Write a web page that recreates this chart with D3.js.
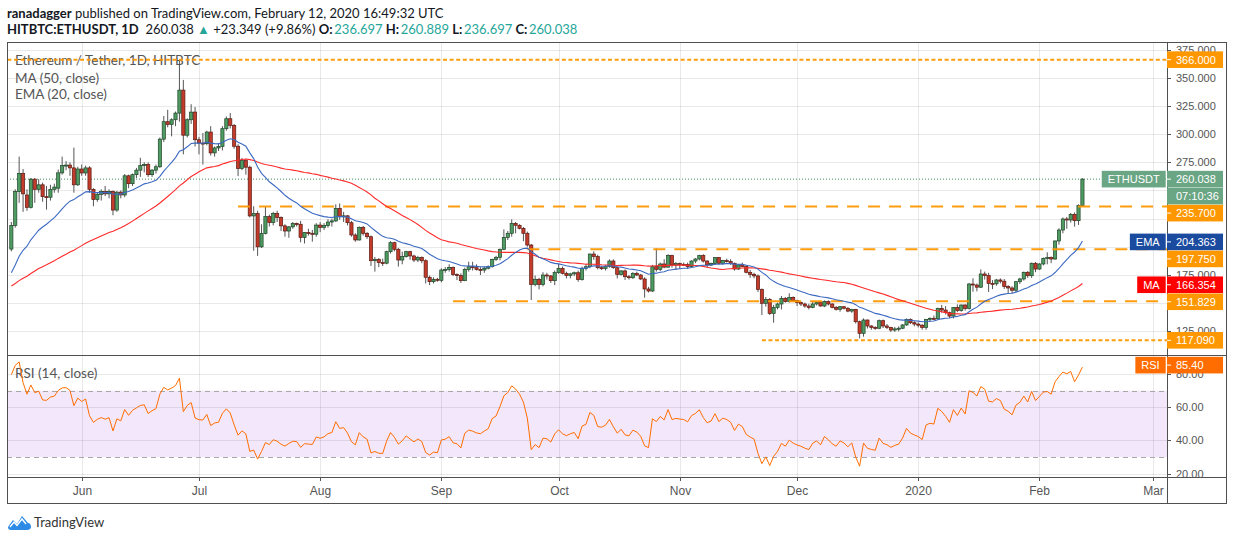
<!DOCTYPE html>
<html><head><meta charset="utf-8">
<script src="https://cdn.jsdelivr.net/npm/d3@7"></script>
<style>
html,body{margin:0;padding:0;background:#fff;}
svg{display:block;}
</style></head><body>
<svg id="c" width="1234" height="541"></svg>
<script>
// ---------------- DATA ----------------
// Off-screen closes (25 Mar – 13 May 2019) used only to warm up MA(50), EMA(20), RSI(14)
const preCloses = [133,134,142,141,143,142,141,
 141,164,160,157,165,165,178,180,175,176,164,165,164,167,161,167,168,174,173,173,171,170,171,164,154,155,157,157,155,162,
 161,162,167,162,162,170,170,170,171,173,194,187,198];

// Daily candles [open, high, low, close]
const may19 = [ // from 14 May 2019
[198,222,196,219],[219,251,217,249],[249,280,239,265],[265,269,231,247],[246,251,232,235],[235,261,234,260],[260,261,239,251],[251,260,248,255],[255,257,240,244.5],[244.5,254,233,244],[244,255,241,251],[251,256,248,253],[252,268.5,248,265.6],[265.6,280,264,272],[272,276,268,272.5],[272.5,275,263,270],[270,288,248,255],[255,271,254,269]];
const jun19 = [
[269,273,263,265.5],[265.5,272,263,270],[270,271.5,248,251],[251,252,236,242],[242,248,240,246.5],[246.5,251,241,249],[249,254,245,247],[247,251,243,249],[249,250,228,232.6],[232.6,249.5,231,248.5],
[248.5,250,243,246],[246,264.5,244,263],[263,264,252,256],[256,265,254,264],[264,270,261,268],[268,279,262,272],[272,275,266,273],[273,275,262,264],[264,269,262,268],[268,273,265,271],
[271,297,270,295.5],[295.5,316,293,311],[311,321.5,306,308.5],[308.5,314,298,312.7],[312.7,320,307,318.6],[318.6,366,311,339],[339,348,282,299],[299,314,297,312.7],[312.7,326.5,309,319.5],[319.5,324,289,295]];
const jul19 = [
[295,297.5,282,292],[292,301,273,291.5],[291.5,303,290,301.8],[301.8,307,281,283.3],[283.3,289,280,287.7],[287.7,292,285,289],[289,307,285.5,304.8],[304.8,315.6,303,313.6],[313.6,318.6,305,307.7],[307.7,309,287,289.2],
[289.2,291,262.7,269.5],[269.5,278.8,268,276.5],[276.5,278,264,270.6],[270.6,272,226,227.4],[227.4,236,196.5,229.5],[229.5,232,192,200],[200,220,199,211.8],[211.8,236,211,226.8],[226.8,228.5,218,221.5],[221.5,231,219,229.5],
[229.5,232,222,226],[226,227,214,218.6],[218.6,220,209,214],[214,218.5,208,217.7],[217.7,222,216,220.6],[220.6,221.5,218,220],[220,223,204,208.3],[208.3,213,203,212.7],[212.7,216,210,212],[212,215,204.6,211.2],
[211.2,221,209,219.3]];
const aug19 = [
[219.3,222,213,217.3],[217.3,221,215,218.8],[218.8,224.5,217,222],[222,225,218,223],[223,237.7,222,234.1],[234.1,238.5,224,226.7],[226.7,231,222,227.5],[227.5,228,219,221.4],[221.4,223,209,210.5],[210.5,212,204.5,206.1],
[206.1,218,205.5,217.3],[217.3,218.5,210,212],[212,213,207,209],[209,210,183,187.7],[187.7,191,178,188.9],[188.9,190,182,186],[186,189.5,183,185.5],[185.5,196.5,184.5,195.7],[195.7,205,194,203.7],[203.7,204.5,196,197.8],
[197.8,199,182.5,188.3],[188.3,195.7,184.5,191.3],[191.3,196.5,190.5,195.7],[195.7,196.5,188.5,191.9],[191.9,193,186.5,188.3],[188.3,192,186.5,190.6],[190.6,191.5,185.5,187.7],[187.7,189,167.5,173],[173,174.5,166,169.1],[169.1,173,167.5,171.2],
[171.2,172.5,169,170.3]];
const sep19 = [
[170.3,181,168.5,179.4],[179.4,182,177,180],[180,184.5,178,181.8],[181.8,182.5,174,175.5],[175.5,176.5,170.5,174.5],[174.5,176.5,168,170],[170,181.5,169.5,180],[180,186.8,178,182.4],[182.4,186.8,179,181.5],[181.5,184.5,179,180],
[180,182,175,179.4],[179.4,182.4,177,181],[181,183.5,180,182.4],[182.4,189.5,181.5,188.9],[188.9,192,187.5,190.7],[190.7,198.5,188,197.8],[197.8,215.5,197,208.4],[208.4,214,206,212],[212,224.4,209,220.8],[220.8,222,212,219.1],
[219.1,220,215.5,216.4],[216.4,217.5,205,212],[212,213.5,200,201.6],[201.6,202.5,152.8,166.7],[166.7,174.5,165,171.2],[171.2,172.5,162.3,166.5],[166.5,177.5,165,175],[175,177,171,174.2],[174.2,175,168,170],[170,179,166,177.1]];
const oct19 = [
[177.1,185,176,180.9],[180.9,182.5,175.5,176.5],[176.5,178,172,174.5],[174.5,177,172,176],[176,178,174,177],[177,179,169,171],[171,182.5,170,180.9],[180.9,184.5,179,182.4],[182.4,194,181,193.6],[193.6,196,188.5,191.3],
[191.3,193,180,181.5],[181.5,183,179.5,180.9],[180.9,184,179,182.6],[182.6,188.9,181.5,187.4],[187.4,188.9,180.5,181.5],[181.5,182.5,172,175.6],[175.6,179.5,174.5,178.6],[178.6,180,170.6,173.5],[173.5,175,171,172.6],[172.6,177.5,171.5,176.5],
[176.5,178,174,175],[175,176,170.5,171.5],[171.5,173,154.9,162.6],[162.6,164.5,159.5,160.8],[160.8,184,160,182.4],[182.4,198.7,178,180],[180,186,178.5,184.8],[184.8,189,181,182],[182,193.5,181.5,192.2],[192.2,193,181.5,183.9],
[183.9,186.5,179.5,185.1]];
const nov19 = [
[185.1,186,180.5,184.5],[184.5,186,183,184.2],[184.2,186,180.5,182.5],[182.5,188,181.5,187.4],[187.4,190,185.5,189.2],[189.2,193,188,192.2],[192.2,193.5,186,187.4],[187.4,188,181.5,183.9],[183.9,186,183,185.1],[185.1,190.8,184,190.4],
[190.4,191,184.5,185.4],[185.4,188.5,184,187.8],[187.8,189.5,186,187],[187,189,184,185.4],[185.4,186,179,180.3],[180.3,184.5,179.5,184],[184,186,182,182.5],[182.5,183.5,176.5,177.4],[177.4,179.5,172.5,175.6],[175.6,177,172,174.2],
[174.2,175.5,160,162.3],[162.3,163,139.5,149.9],[149.9,155.5,147,153.4],[153.4,154.5,139.5,141],[141,148.5,132.7,146.3],[146.3,150.5,144.5,149.3],[149.3,156.4,144.5,154.3],[154.3,155.5,150.5,151.4],[151.4,158.8,150.5,155.2],[155.2,156,151,152.3]];
const dec19 = [
[152.3,153,147.5,150.5],[150.5,151.5,147.5,149.3],[149.3,150.5,146,147.5],[147.5,149.5,144.5,146.3],[146.3,151.5,145.5,149.3],[149.3,151.5,148,150.5],[150.5,151.5,147,147.5],[147.5,152.5,146.5,151.5],[151.5,152.5,148,149.3],[149.3,150,145.5,146.3],
[146.3,147.5,143.5,144.6],[144.6,147.5,142.5,146.9],[146.9,147.5,144.5,145.5],[145.5,146.5,142,143],[143,145,141.5,144.5],[144.5,145,132,133.6],[133.6,134.5,118.8,123.3],[123.3,136.5,120.3,135.1],[135.1,135.5,127.5,129.8],[129.8,130.5,126.5,128.6],
[128.6,129.5,126.5,127.8],[127.8,135.5,127,134.5],[134.5,135.5,128,129.8],[129.8,131.5,127,128.6],[128.6,129,124.5,126.2],[126.2,129,124.5,127.2],[127.2,129.5,125,127.8],[127.8,131.5,127,130.7],[130.7,136.5,130,135.7],[135.7,136.5,131.5,132.7],
[132.7,134,129.5,131.5]];
const jan20 = [
[131.5,133,128.5,130.5],[130.5,131.5,126.5,128.6],[128.6,136,126.5,135.7],[135.7,137.5,133.5,136.6],[136.6,139,135,136.2],[136.2,146,135.5,145.4],[145.4,148.5,141.5,143.9],[143.9,147.5,140,141.6],[141.6,142.5,137,138.6],[138.6,146.5,136.5,146.3],
[146.3,149,142,143.4],[143.4,148.8,142.5,148.4],[148.4,149,143.5,145.4],[145.4,168,144.5,167],[167,172.1,160.2,166.1],[166.1,167.5,160.5,164.2],[164.2,180,163.5,175.9],[175.9,178,171,174.5],[174.5,177,160,167.6],[167.6,170.5,162.5,167.2],
[167.2,171.5,165.5,170.6],[170.6,172,167.5,169.5],[169.5,171.5,162.6,164.7],[164.7,166,158.8,163.5],[163.5,165,158.8,161.5],[161.5,169.5,160,169.1],[169.1,172.5,167,171.5],[171.5,178,170,177.4],[177.4,178.5,172.5,174.4],[174.4,186,172.5,185.4],
[185.4,186.5,177.5,180.3]];
const feb20 = [
[180.3,185.5,179.5,184.8],[184.8,190.5,183.5,189.8],[189.8,195.1,184.5,190.5],[190.5,191.5,185.5,189.2],[189.2,205.5,188.5,205.2],[205.2,216.5,202,214.9],[214.9,226,212,224.7],[224.7,226.5,216,223.8],[223.8,230,221.5,228.8],[228.8,230.5,217.9,223.2],
[223.2,237.7,219.4,236.689],[236.697,260.889,236.697,260.038]];
const blockStarts = ["2019-05-14","2019-06-01","2019-07-01","2019-08-01","2019-09-01","2019-10-01","2019-11-01","2019-12-01","2020-01-01","2020-02-01"];
const blocks = [may19,jun19,jul19,aug19,sep19,oct19,nov19,dec19,jan20,feb20];

// Horizontal levels drawn on the chart
const levelValues = [366.0, 235.7, 197.75, 151.829, 117.09];
const levelStarts = ["2019-05-13","2019-07-11","2019-09-23","2019-09-04","2019-11-22"];
const dottedLevels = [366.0, 117.09];

// Axis ticks
const priceTicks = [125,150,175,200,225,250,275,300,325,350,375];
const rsiTicks = [20,40,60,80];
const rsiBand = [30,70];
const timeTickDates = ["2019-06-01","2019-07-01","2019-08-01","2019-09-01","2019-10-01","2019-11-01","2019-12-01","2020-01-01","2020-02-01","2020-03-01"];
const timeTickLabels = ["Jun","Jul","Aug","Sep","Oct","Nov","Dec","2020","Feb","Mar"];

// Last values shown on the scales
const lastPrice = 260.038, countdown = "07:10:36";
const emaLast = 204.363, maLast = 166.354, rsiLast = 85.40;

// ---------------- LAYOUT ----------------
const L=7, R=1227, AX=1167, T=42, PB=355.5, RB=477, B=504;
const ORANGE="#ff9800", GREENLBL="#6aa584", BLUE="#1a4b9f", RED="#ff0000", RSIORANGE="#ff6d00";
const UPF="#4f9b61", UPS="#1e4429", DNF="#c33b2a", DNS="#5c1a12", WICK="#555";
const AXF="'Liberation Sans', Arial, sans-serif";
const TXF="Lato, 'Open Sans', sans-serif";

const parse = d3.utcParse("%Y-%m-%d");
const candles = [];
blocks.forEach((rows,bi)=>{
  const d0 = parse(blockStarts[bi]);
  rows.forEach((r,i)=>candles.push({date:d3.utcDay.offset(d0,i),o:r[0],h:r[1],l:r[2],c:r[3]}));
});

const x = d3.scaleUtc().domain([parse("2019-06-01"),parse("2020-03-01")]).range([81.7,1152.8]);
const y = d3.scaleLinear().domain([104.06,381.66]).range([355,42]);
const yr = d3.scaleLinear().domain([18,90.9]).range([477,356]);

// Indicators
const all = preCloses.concat(candles.map(d=>d.c));
const off = preCloses.length;
function sma(n){return all.map((v,i)=>i<n-1?null:d3.mean(all.slice(i-n+1,i+1)));}
function ema(n){const k=2/(n+1);let e=null;return all.map((v,i)=>{if(i<n-1)return null;if(i===n-1){e=d3.mean(all.slice(0,n));return e;}e=v*k+e*(1-k);return e;});}
function rsi(n){const out=[];let ag=0,al=0;for(let i=0;i<all.length;i++){if(i===0){out.push(null);continue;}const ch=all[i]-all[i-1];const g=Math.max(ch,0),l=Math.max(-ch,0);
  if(i<=n){ag+=g/n;al+=l/n;out.push(i===n?100-100/(1+ag/al):null);}else{ag=(ag*(n-1)+g)/n;al=(al*(n-1)+l)/n;out.push(al===0?100:100-100/(1+ag/al));}}return out;}
const ma50=sma(50), ema20=ema(20), rsi14=rsi(14);
candles.forEach((d,i)=>{d.ma=ma50[i+off];d.ema=ema20[i+off];d.rsi=rsi14[i+off];});

// ---------------- DRAW ----------------
const svg = d3.select("#c");
svg.append("rect").attr("width",1234).attr("height",541).attr("fill","#fff");
const defs = svg.append("defs");
defs.append("clipPath").attr("id","cp").append("rect").attr("x",L).attr("y",T).attr("width",AX-L).attr("height",PB-T);
defs.append("clipPath").attr("id","cr").append("rect").attr("x",L).attr("y",PB).attr("width",AX-L).attr("height",RB-PB);

// header
const fmt3 = d3.format(".3f");
const h1 = svg.append("text").attr("x",7).attr("y",17.5).attr("font-family",TXF).attr("font-size",13).attr("fill","#131722");
h1.append("tspan").attr("font-weight","bold").text("ranadagger");
h1.append("tspan").text(" published on TradingView.com, February 12, 2020 16:49:32 UTC");
const h2 = svg.append("text").attr("x",7).attr("y",33.5).attr("font-family",TXF).attr("font-size",13).attr("fill","#131722");
const lastC = candles[candles.length-1], prevC = candles[candles.length-2];
const chg = lastC.c - prevC.c;
h2.append("tspan").attr("font-weight","bold").text("HITBTC:ETHUSDT, 1D");
h2.append("tspan").text("\u00a0 "+fmt3(lastC.c)+" ");
h2.append("tspan").attr("fill","#26a69a").text("\u25b2");
h2.append("tspan").text(" +"+fmt3(chg)+" (+"+d3.format(".2f")(chg/prevC.c*100)+"%) ");
[["O:",lastC.o],["H:",lastC.h],["L:",lastC.l],["C:",lastC.c]].forEach(([k,v],i)=>{
  h2.append("tspan").attr("font-weight","bold").text((i?" ":"")+k);
  h2.append("tspan").attr("fill","#26a69a").text("\u2009"+fmt3(v));
});

// RSI band
svg.append("rect").attr("x",L).attr("width",AX-L).attr("y",yr(rsiBand[1])).attr("height",yr(rsiBand[0])-yr(rsiBand[1])).attr("fill","#f3e7fb");

// grids
const grid = svg.append("g").attr("stroke","rgba(0,0,0,0.085)").attr("stroke-width",1);
timeTickDates.forEach(s=>{const xx=Math.round(x(parse(s)))+0.5;
  grid.append("line").attr("x1",xx).attr("x2",xx).attr("y1",T).attr("y2",RB);});
priceTicks.forEach(v=>{const yy=Math.round(y(v))+0.5;grid.append("line").attr("x1",L).attr("x2",AX).attr("y1",yy).attr("y2",yy);});
rsiTicks.forEach(v=>{const yy=Math.round(yr(v))+0.5;grid.append("line").attr("x1",L).attr("x2",AX).attr("y1",yy).attr("y2",yy);});
rsiBand.forEach(v=>{const yy=Math.round(yr(v))+0.5;svg.append("line").attr("x1",L).attr("x2",AX).attr("y1",yy).attr("y2",yy)
  .attr("stroke","#a7a7a7").attr("stroke-dasharray","5,4");});

// legends
const lg = svg.append("g").attr("font-family",TXF).attr("font-size",13.5).attr("fill","#555");
lg.append("text").attr("x",15).attr("y",82.5).text("MA (50, close)");
lg.append("text").attr("x",15).attr("y",99).text("EMA (20, close)");
lg.append("text").attr("x",15).attr("y",377.5).text("RSI (14, close)");

// price pane content
const pane = svg.append("g").attr("clip-path","url(#cp)");
pane.append("line").attr("x1",L).attr("x2",AX).attr("y1",y(lastPrice)).attr("y2",y(lastPrice))
  .attr("stroke","#3f8a58").attr("stroke-width",1).attr("stroke-dasharray","1,2");

// candles
const cg = pane.append("g");
candles.forEach(d=>{
  const cx = x(d.date), up = d.c>=d.o;
  cg.append("line").attr("x1",cx).attr("x2",cx).attr("y1",y(d.h)).attr("y2",y(d.l)).attr("stroke",WICK).attr("stroke-width",1);
  const top=y(Math.max(d.o,d.c)), bot=y(Math.min(d.o,d.c));
  cg.append("rect").attr("x",cx-1.6).attr("width",3.2).attr("y",top).attr("height",Math.max(bot-top,1))
    .attr("fill",up?UPF:DNF).attr("stroke",up?UPS:DNS).attr("stroke-width",0.7);
});

lg.append("text").attr("x",15).attr("y",65).text("Ethereum / Tether, 1D, HITBTC");

// horizontal levels
levelValues.forEach((v,i)=>{
  const dotted = dottedLevels.includes(v);
  pane.append("line").attr("x1",x(parse(levelStarts[i]))).attr("x2",AX).attr("y1",y(v)).attr("y2",y(v))
    .attr("stroke",ORANGE).attr("stroke-width",2).attr("stroke-opacity",0.95)
    .attr("stroke-dasharray",dotted?"4,2.6":"12,9");
});

// MA / EMA
pane.append("path").datum(candles).attr("fill","none").attr("stroke","#ff2a2a").attr("stroke-width",1.1)
  .attr("d",d3.line().x(d=>x(d.date)).y(d=>y(d.ma)));
pane.append("path").datum(candles).attr("fill","none").attr("stroke","#3b69c2").attr("stroke-width",1.1)
  .attr("d",d3.line().x(d=>x(d.date)).y(d=>y(d.ema)));

// RSI line
svg.append("g").attr("clip-path","url(#cr)").append("path").datum(candles.filter(d=>d.rsi!=null))
  .attr("fill","none").attr("stroke",RSIORANGE).attr("stroke-width",1)
  .attr("d",d3.line().x(d=>x(d.date)).y(d=>yr(d.rsi)));

// frame
const fr = svg.append("g").attr("stroke","#505050").attr("stroke-width",1).attr("fill","none");
fr.append("rect").attr("x",L+0.5).attr("y",T+0.5).attr("width",R-L-1).attr("height",B-T-1);
fr.append("line").attr("x1",L).attr("x2",R).attr("y1",PB).attr("y2",PB);
fr.append("line").attr("x1",L).attr("x2",R).attr("y1",RB+0.5).attr("y2",RB+0.5);
fr.append("line").attr("x1",AX+0.5).attr("x2",AX+0.5).attr("y1",T).attr("y2",B);

// scale labels (positions resolved first so hidden tick labels can be skipped)
const lbls = [
  {v:levelValues[0], bg:ORANGE},
  {v:lastPrice, bg:GREENLBL, tag:"ETHUSDT"},
  {v:null, bg:GREENLBL, text:countdown},
  {v:levelValues[1], bg:ORANGE},
  {v:emaLast, bg:BLUE, tag:"EMA"},
  {v:levelValues[2], bg:ORANGE},
  {v:maLast, bg:RED, tag:"MA"},
  {v:levelValues[3], bg:ORANGE},
  {v:levelValues[4], bg:ORANGE}
];
let prevY=-1e9;
lbls.forEach(l=>{
  let yy = l.v==null ? prevY+17 : Math.max(y(l.v), prevY+17);
  l.y=yy; prevY=yy; if(!l.text) l.text=fmt3(l.v);
});
const rsiLbl = {v:rsiLast, y:yr(rsiLast), bg:RSIORANGE, tag:"RSI", text:d3.format(".2f")(rsiLast)};

// price axis ticks
const ax = svg.append("g").attr("font-family",AXF).attr("font-size",11).attr("fill","#555");
priceTicks.forEach(v=>{const yy=Math.round(y(v))+0.5;
  ax.append("line").attr("x1",AX).attr("x2",AX+4).attr("y1",yy).attr("y2",yy).attr("stroke","#555");
  const hidden = lbls.some(l=>Math.abs(l.y-yy)<8.5);
  if(!hidden) ax.append("text").attr("x",1176).attr("y",yy).attr("dy","0.36em").text(fmt3(v));});
rsiTicks.forEach(v=>{const yy=Math.round(yr(v))+0.5;
  ax.append("line").attr("x1",AX).attr("x2",AX+4).attr("y1",yy).attr("y2",yy).attr("stroke","#555");
  ax.append("text").attr("x",1176).attr("y",yy).attr("dy","0.36em").text(d3.format(".2f")(v));});
// time axis
timeTickDates.forEach((s,i)=>{const xx=Math.round(x(parse(s)))+0.5;
  ax.append("line").attr("x1",xx).attr("x2",xx).attr("y1",RB).attr("y2",RB+4).attr("stroke","#555");
  ax.append("text").attr("x",xx).attr("y",495).attr("text-anchor","middle").attr("font-size",12).text(timeTickLabels[i]);});

const lb = svg.append("g").attr("font-family",AXF).attr("font-size",11);
function drawLabel(l){
  lb.append("rect").attr("x",AX).attr("y",l.y-8.3).attr("width",56).attr("height",16.6).attr("fill",l.bg);
  if(l.v!=null) lb.append("line").attr("x1",AX).attr("x2",AX+4).attr("y1",l.y).attr("y2",l.y).attr("stroke","#fff");
  lb.append("text").attr("x",1176).attr("y",l.y).attr("dy","0.36em").attr("fill","#fff").text(l.text);
  if(l.tag){
    const t = lb.append("text").attr("y",l.y).attr("dy","0.36em").attr("fill","#fff").attr("text-anchor","middle").text(l.tag);
    const w = t.node().getComputedTextLength()+12;
    lb.insert("rect","text:last-child").attr("x",AX-1.3-w).attr("y",l.y-8.3).attr("width",w).attr("height",16.6).attr("fill",l.bg);
    t.attr("x",AX-1.3-w/2);
    t.raise();
  }
}
lbls.forEach(drawLabel);
drawLabel(rsiLbl);

// TradingView logo
const logo = svg.append("g").attr("transform","translate(8,514)");
logo.append("path").attr("d","M0,13 L5,6 L9,10 L14,2 L20,9 C22,9 23,11 23,13 C23,15 21,16 19,16 L3,16 C1,16 0,15 0,13 Z").attr("fill","#2d8be6");
logo.append("path").attr("d","M2,13 L6,8 L9,11.5 L14,5 L18,10").attr("fill","none").attr("stroke","#fff").attr("stroke-width",1.4);
svg.append("text").attr("x",34).attr("y",527).attr("font-family",TXF).attr("font-size",13).attr("fill","#333").text("TradingView");
</script>
</body></html>
